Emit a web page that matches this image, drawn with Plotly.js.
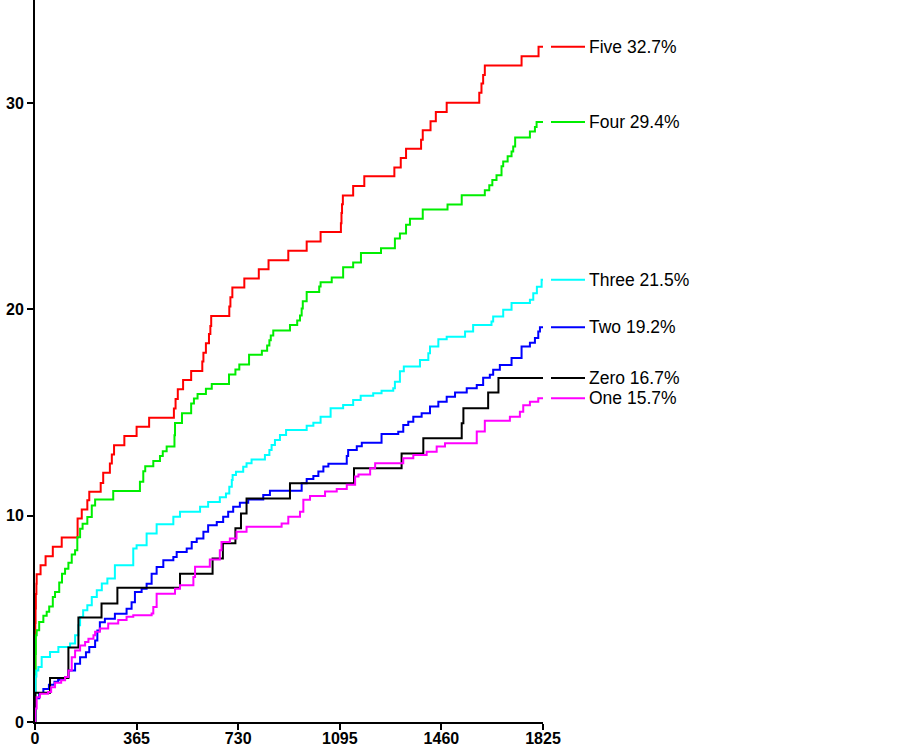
<!DOCTYPE html>
<html>
<head>
<meta charset="utf-8">
<script src="https://cdn.plot.ly/plotly-3.0.1.min.js"></script>
<style>html,body{margin:0;padding:0;background:#fff;}#chart{width:903px;height:747px;}</style>
</head>
<body>
<div id="chart"></div>
<script>
var xTickVals = [0, 365, 730, 1095, 1460, 1825];
var yTickVals = [0, 10, 20, 30];

var seriesNames = ["Five", "Four", "Three", "Two", "Zero", "One"];
var seriesLabels = ["Five 32.7%", "Four 29.4%", "Three 21.5%", "Two 19.2%", "Zero 16.7%", "One 15.7%"];
var seriesColors = ["#ff0000", "#00ee00", "#00ffff", "#0000ff", "#000000", "#ff00ff"];

var fiveDays = [0,1,2,3,5,6,20,38,64,96,153,168,188,195,236,245,269,276,284,321,365,410,499,505,513,532,561,601,605,614,625,630,633,698,702,709,752,804,839,910,976,1026,1099,1101,1103,1106,1143,1183,1291,1314,1333,1387,1393,1421,1440,1479,1596,1604,1610,1616,1748,1809,1825];
var fiveVals = [0,4.8,5.5,6.2,6.7,7.16,7.6,8.03,8.49,8.94,9.86,10.3,10.75,11.16,11.59,12.08,12.53,12.97,13.42,13.86,14.31,14.75,15.2,15.66,16.13,16.58,17.01,17.47,17.9,18.36,18.81,19.2,19.68,20.14,20.59,21.06,21.5,21.95,22.39,22.84,23.29,23.75,24.18,24.67,25.1,25.52,25.98,26.45,26.88,27.34,27.79,28.23,28.68,29.12,29.57,30.02,30.5,30.95,31.37,31.82,32.27,32.73,32.73];

var fourDays = [0,1,2,3,6,15,30,42,51,64,72,87,97,108,120,132,144,152,162,171,188,204,216,281,377,389,396,425,449,459,473,501,503,528,561,571,584,614,635,697,720,734,769,815,834,842,847,856,916,942,952,958,962,976,1021,1026,1066,1107,1143,1171,1243,1293,1311,1333,1347,1393,1482,1533,1616,1632,1643,1658,1676,1682,1698,1712,1718,1725,1778,1796,1802,1825];
var fourVals = [0,2.2,3.3,4.2,4.45,4.85,5.15,5.34,5.6,6.06,6.3,6.76,7.19,7.43,7.72,8.12,8.32,8.96,9.37,9.61,9.94,10.5,10.78,11.2,11.65,12.15,12.4,12.65,12.9,13.13,13.35,13.9,14.5,14.97,15.44,15.68,15.9,16.15,16.39,16.85,17.09,17.33,17.8,18.0,18.25,18.5,18.74,18.98,19.24,19.46,19.7,20.05,20.4,20.85,21.11,21.32,21.55,22.04,22.28,22.73,22.97,23.44,23.68,24.11,24.39,24.84,25.09,25.54,25.78,26.02,26.27,26.5,26.94,27.17,27.42,27.66,27.9,28.34,28.62,28.84,29.09,29.09];

var threeDays = [0,1,2,5,12,24,54,84,126,144,156,162,173,188,204,222,240,260,287,353,365,401,437,497,521,593,622,664,686,698,707,710,722,748,760,778,826,842,850,862,880,902,976,1000,1026,1062,1107,1143,1170,1215,1245,1287,1293,1311,1325,1383,1413,1419,1449,1479,1545,1574,1640,1646,1682,1712,1778,1790,1803,1820,1825];
var threeVals = [0,1.5,2.2,2.5,2.67,3.15,3.39,3.64,3.8,4.2,4.69,5.09,5.42,5.66,6.06,6.39,6.71,6.96,7.6,8.41,8.57,9.14,9.59,9.95,10.19,10.43,10.67,10.89,11.08,11.4,11.73,11.97,12.13,12.37,12.54,12.73,12.94,13.18,13.43,13.67,13.91,14.16,14.36,14.51,14.8,15.21,15.37,15.61,15.81,15.94,16.06,16.18,16.5,17.0,17.23,17.55,17.88,18.2,18.56,18.68,18.93,19.25,19.41,19.66,19.98,20.31,20.47,20.79,21.1,21.44,21.44];

var twoDays = [0,1,3,15,30,50,70,83,108,120,144,162,183,195,216,224,233,251,287,329,347,359,383,401,419,437,461,497,509,545,563,581,605,622,653,676,694,712,736,766,820,844,958,976,1000,1018,1036,1054,1120,1125,1156,1174,1245,1305,1323,1341,1359,1389,1419,1449,1479,1509,1551,1587,1610,1634,1646,1670,1712,1748,1778,1796,1808,1814,1825];
var twoVals = [0,0.8,1.15,1.4,1.6,1.8,1.95,2.05,2.18,2.5,2.82,3.14,3.38,3.63,3.95,4.44,4.84,5.0,5.25,5.49,5.81,6.3,6.46,6.7,7.19,7.51,7.84,8.0,8.24,8.41,8.73,8.89,9.22,9.54,9.7,9.95,10.19,10.43,10.63,10.79,11.0,11.21,11.57,11.78,11.93,12.14,12.38,12.52,12.9,13.18,13.37,13.54,13.96,14.07,14.4,14.56,14.8,14.97,15.29,15.53,15.77,15.97,16.18,16.34,16.69,16.83,17.07,17.31,17.64,18.2,18.39,18.61,18.93,19.14,19.14];

var zeroDays = [0,1,54,120,156,239,296,521,638,675,720,740,760,916,1146,1317,1395,1533,1539,1628,1665,1825];
var zeroVals = [0,1.42,2.13,3.61,5.06,5.74,6.51,7.19,7.93,8.66,9.39,10.11,10.84,11.57,12.3,13.02,13.75,14.48,15.21,15.97,16.68,16.68];

var oneDays = [0,1,6,18,47,58,72,94,108,120,132,144,162,180,192,210,216,233,263,299,329,353,419,425,437,503,521,569,575,628,664,670,700,724,760,886,910,952,964,988,1042,1084,1120,1150,1162,1204,1222,1323,1359,1407,1443,1473,1587,1616,1706,1742,1754,1778,1808,1825];
var oneVals = [0,0.65,1.2,1.37,1.45,1.69,1.9,2.02,2.18,2.5,3.14,3.47,3.71,3.88,4.04,4.2,4.37,4.53,4.77,4.94,5.1,5.18,5.26,5.58,6.22,6.46,6.63,7.03,7.52,7.88,8.33,8.73,8.9,9.22,9.46,9.62,9.95,10.19,10.77,10.96,11.17,11.29,11.5,11.9,12.0,12.3,12.54,12.78,12.94,13.1,13.35,13.51,14.08,14.6,14.8,15.04,15.36,15.52,15.69,15.69];

var allDays = [fiveDays, fourDays, threeDays, twoDays, zeroDays, oneDays];
var allVals = [fiveVals, fourVals, threeVals, twoVals, zeroVals, oneVals];

var traces = [];
var annotations = [];
for (var i = 0; i < seriesNames.length; i++) {
  traces.push({
    type: 'scatter', mode: 'lines', name: seriesNames[i],
    x: allDays[i], y: allVals[i],
    line: {shape: 'hv', color: seriesColors[i], width: 2},
    hoverinfo: 'skip'
  });
  var d = allDays[i], v = allVals[i];
  annotations.push({
    x: d[d.length - 1], y: v[v.length - 1], xref: 'x', yref: 'y',
    text: seriesLabels[i], showarrow: true, arrowhead: 0, arrowwidth: 2,
    arrowcolor: seriesColors[i], ax: 42, ay: 0, standoff: 8, borderpad: 3,
    xanchor: 'left', yanchor: 'middle',
    font: {family: 'Liberation Sans, Arial, sans-serif', size: 17.5, color: '#000'}
  });
}

var tickFont = {family: 'Liberation Sans, Arial, sans-serif', size: 16, color: '#000', weight: 'bold'};

var layout = {
  width: 903, height: 747,
  margin: {l: 35, r: 360, t: 0, b: 25, pad: 0},
  paper_bgcolor: '#fff', plot_bgcolor: '#fff',
  showlegend: false,
  xaxis: {
    range: [0, 1825], tickvals: xTickVals, ticktext: xTickVals.map(String),
    showline: true, linewidth: 2, linecolor: '#000',
    ticks: 'outside', ticklen: 6, tickwidth: 2, tickcolor: '#000',
    ticklabelstandoff: -5,
    showgrid: false, zeroline: false, tickfont: tickFont, fixedrange: true
  },
  yaxis: {
    range: [0, 35], tickvals: yTickVals, ticktext: yTickVals.map(String),
    showline: true, linewidth: 2, linecolor: '#000',
    ticks: 'outside', ticklen: 6, tickwidth: 2, tickcolor: '#000',
    showgrid: false, zeroline: false, tickfont: tickFont, fixedrange: true
  },
  annotations: annotations
};

Plotly.newPlot('chart', traces, layout, {displayModeBar: false, staticPlot: true});
</script>
</body>
</html>
